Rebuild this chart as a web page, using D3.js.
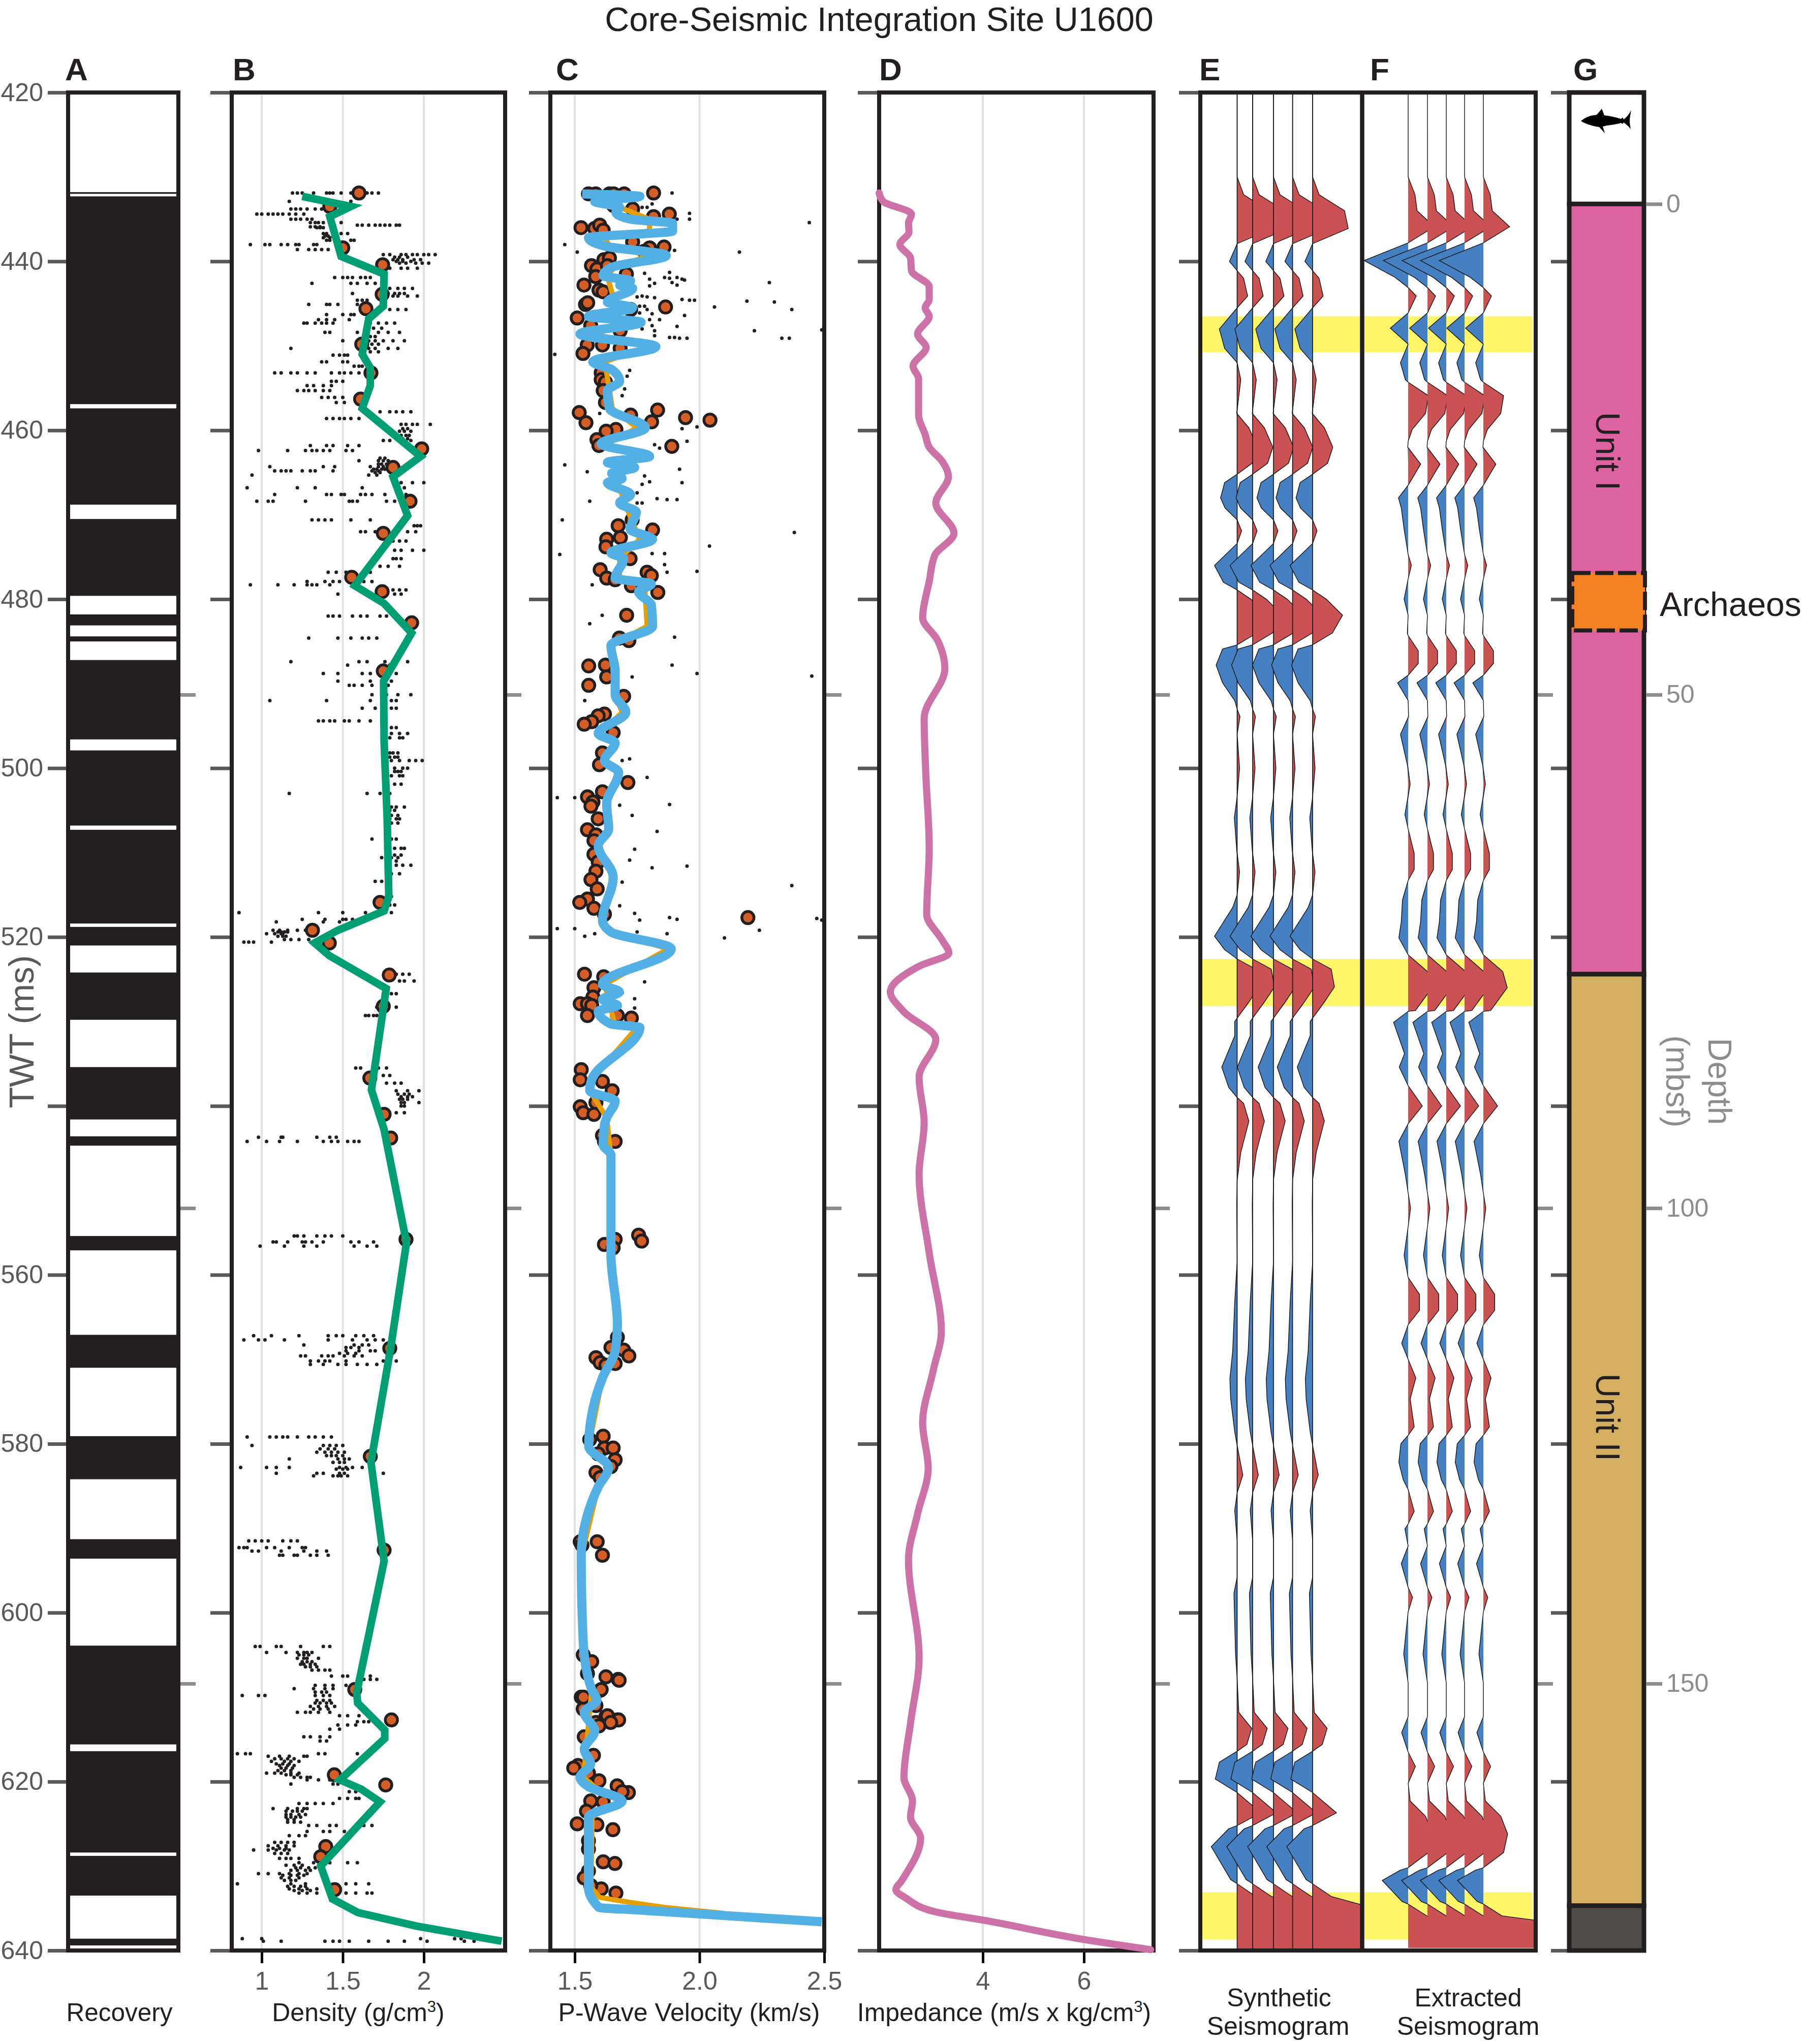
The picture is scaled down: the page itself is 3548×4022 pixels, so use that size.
<!DOCTYPE html>
<html><head><meta charset="utf-8">
<script src="https://cdn.jsdelivr.net/npm/d3@7"></script>
<style>html,body{margin:0;padding:0;background:#fff}svg{display:block}text{font-family:"Liberation Sans",Arial,sans-serif}</style>
</head><body><svg id="c" width="3548" height="4022" viewBox="0 0 3548 4022"></svg>
<script>
// ---------- DATA (TWT in ms) ----------
const twtTicks=[420,440,460,480,500,520,540,560,580,600,620,640];
const twtHiddenLabels=[540];
const depthTicks=[0,50,100,150];
const depthTwt=[433.2,491.3,552.1,608.4];
const densityTicks=[1,1.5,2];
const velocityTicks=[1.5,2,2.5];
const impedanceTicks=[4,6];
const recoveryGaps=[[420,431.8],[432,432.3],[456.9,457.4],[468.8,470.5],[479.6,481.8],[483.1,484.4],[485,487.2],[496.6,497.9],[506.8,507.3],[518.4,518.8],[521,524.2],[529.8,535.4],[541.6,543.6],[544.7,555.4],[557.1,567.1],[571,579.1],[584.2,591.3],[593.6,603.9],[615.6,616.4],[628.4,628.8],[633.5,638.6],[639.4,640]];
const densityLine=[[432.3,1.25],[433.5,1.55],[434.7,1.42],[439.4,1.49],[441.5,1.755],[445.3,1.75],[446.8,1.66],[451,1.62],[452.6,1.67],[454.7,1.67],[457.4,1.62],[463.1,1.98],[465.5,1.81],[470.1,1.9],[478.4,1.574],[480.5,1.755],[484,1.925],[489.7,1.752],[496.8,1.755],[506,1.774],[515.2,1.784],[516.9,1.755],[519.2,1.47],[520.7,1.326],[522.2,1.417],[526.1,1.768],[538.1,1.677],[542.8,1.755],[556.2,1.893],[568.6,1.796],[582.2,1.674],[593.9,1.755],[609.5,1.586],[610.7,1.592],[613.9,1.759],[614.9,1.759],[619.8,1.483],[620.9,1.614],[622.4,1.73],[630,1.364],[633.9,1.436],[635.5,1.592],[637.1,1.953],[638.9,2.48]];
const densitySamples=[[431.9,1.6],[433.5,1.42],[438.4,1.5],[440.4,1.746],[443.9,1.743],[445.6,1.643],[449.8,1.617],[453.2,1.674],[456.3,1.61],[462.2,1.987],[464.4,1.81],[468.4,1.915],[472.2,1.75],[477.4,1.555],[479.1,1.743],[482.8,1.925],[488.5,1.75],[515.9,1.73],[519.2,1.313],[520.7,1.417],[524.5,1.787],[528.2,1.75],[536.7,1.667],[541,1.755],[543.8,1.796],[555.8,1.89],[568.7,1.79],[581.5,1.67],[592.6,1.755],[609.1,1.574],[612.7,1.8],[619.2,1.448],[620.4,1.765],[627.7,1.395],[628.9,1.364],[632.8,1.45]];
// each row: ms, then density values logged at that travel time
const densityRows=[
[431.9,1.19,1.22,1.25,1.32,1.40,1.42,1.44,1.49,1.55,1.65,1.68,1.72],[432.9,1.17,1.38,1.44,1.55],[433.8,1.18,1.21,1.24,1.28,1.33,1.37],[434.4,.97,1,1.04,1.07,1.10,1.13,1.17,1.21,1.26],[435,1.18,1.21,1.24,1.28,1.31],[435.4,1.30,1.33,1.35,1.38,1.49],[435.7,1.59,1.62,1.66,1.70,1.73,1.76,1.79,1.83,1.85],[436.7,1.38,1.40,1.49,1.53],[437.5,1.40,1.42,1.46,1.55,1.57],[438,.93,1.02,1.05,1.12,1.16,1.21,1.23,1.32,1.34,1.5],[438.6,1.22,1.29,1.33,1.37,1.41],[439.2,1.75,1.79,1.86,1.89,1.93,1.96,2,2.03,2.07],[439.8,1.81,1.84,1.87,1.94,1.98],[440.2,1.85,1.89,1.95,1.99,2.03],[440.8,1.79,1.86,1.9,1.96],[441.9,1.45,1.5,1.53,1.56,1.61,1.64,1.67],[442.6,1.31,1.55,1.59,1.65,1.70],[443.2,1.79,1.84,1.88,1.93],[443.8,1.56,1.78,1.82,1.85,1.88],[444.1,1.81,1.84,1.90,1.96],[444.6,1.59,1.62,1.65],[445.1,1.29,1.4,1.42,1.47,1.59],[445.7,1.79,1.84,1.89],[446.3,1.40,1.5,1.55,1.57,1.68],[446.9,1.35,1.4,1.45,1.54],[447.3,1.26,1.28,1.33,1.37,1.4,1.44,1.67,1.72,1.77,1.82],[448.4,1.39,1.42,1.59,1.65,1.72,1.78,1.85],[449.4,1.5,1.62,1.66,1.7,1.75,1.81,1.88],[450.3,1.18,1.66,1.7,1.78,1.84],[451.1,1.44,1.48,1.51,1.53],[451.9,1.37,1.4,1.5,1.53],[452.4,1.57,1.6,1.62],[453.2,1.08,1.12,1.18,1.22,1.28,1.33,1.43,1.48,1.51,1.55,1.6],[454.2,1.43,1.46,1.5],[454.7,1.28,1.32,1.38,1.43],[455.3,1.22,1.26,1.29,1.33,1.38,1.42],[456.1,1.37,1.41,1.45,1.5],[456.7,1.46,1.51],[457.8,1.73,1.79,1.83,1.87,1.92],[458.6,1.4,1.44,1.48,1.51,1.55,1.6],[459.3,1.86,1.89,1.93,1.96,2.04],[460.1,1.85,1.88,1.92],[461.2,1.75,1.79,1.87,1.92],[461.8,1.3,1.4,1.44,1.53,1.6],[462.4,.98,1.16,1.27,1.31,1.34,1.38,1.42,1.52,1.56],[463.6,1.6,1.72,1.75,1.78],[464.3,1.05,1.38,1.45,1.67,1.72,1.75],[464.8,1.08,1.12,1.15,1.18,1.25,1.3,1.33,1.44,1.68,1.72],[465.3,.94,1.66,1.71],[466.2,1.86,1.93,2],[466.8,.91,1.22,1.33,1.62,1.88],[467.6,1.08,1.4,1.43,1.49,1.51,1.61,1.64,1.68,1.76,1.89],[468.4,.97,1.04,1.07,1.27,1.54,1.56,1.59,1.77,1.82,1.86],
[470.6,1.31,1.35,1.39,1.43,1.55,1.67],[471.3,1.94,1.96,1.98],[472,1.61,1.64,1.7,1.78,1.83,1.9,1.95],[473.1,1.81,1.85,1.89],[474.2,1.82,1.86,1.93,2],[475.2,1.81,1.83,1.86],[476.1,1.73,1.78,1.85],[476.8,1.41,1.46,1.52,1.63,1.67],[477.9,1.28,1.39,1.44,1.48,1.63,1.68],[478.3,.93,1.1,1.2,1.28,1.31,1.34,1.42],[478.9,1.81,1.85,1.89],[479.4,1.47,1.82,1.86],[482,1.41,1.44,1.48,1.56,1.61,1.65,1.73,1.77],[484.6,1.29,1.47,1.55,1.62,1.66,1.71],[487.4,1.18,1.6,1.65,1.76,1.9],[487.8,1.53,1.75,1.79],[488.8,1.38,1.47,1.62,1.67,1.83],[489.7,1.47,1.67,1.8],[490.2,1.54,1.57,1.62,1.68,1.78],[491.3,1.68,1.77,1.84,1.92],[492,1.05,1.4,1.67,1.8,1.83],[492.9,1.62,1.7,1.8,1.83],[494.4,1.35,1.38,1.42,1.45,1.51,1.54,1.6,1.67],[495.2,1.8,1.83],[495.9,1.8,1.85,1.9],[496.4,1.79,1.85,1.87],[498.2,1.79,1.81,1.84],[499.1,1.8,1.85,1.91,1.95,1.99],[500,1.82,1.87,1.9],[500.9,1.8,1.85,1.87],[501.9,1.82,1.86],[503,1.17,1.65,1.73,1.79],[504.6,1.8,1.83,1.88],[505.6,1.8,1.84],[506.5,1.8,1.84],[508.4,1.68,1.8,1.83],[509.5,1.82,1.86,1.88],[510.6,1.74,1.8,1.84],[511.5,1.83,1.87,1.92],[512.5,1.8,1.85],[513.4,1.7,1.74,1.78],[515.2,1.77,1.8],[516.2,1.79,1.82],[517.1,.86,1.35,1.5,1.64,1.75,1.8],[517.9,1.25,1.39,1.5,1.52,1.56],[518.2,1.09,1.38,1.48],[519.2,1.07,1.11,1.16,1.22,1.27,1.31],[519.6,1.03,1.08,1.12,1.13,1.43],[520.3,1.14,1.18,1.23,1.29],[520.6,.89,.92,.95,1.06],[524.4,1.83,1.87,1.91],[525.2,1.85,1.88,1.94],[526.7,1.75,1.8,1.83],[528.3,1.71,1.83],[529.3,1.64,1.66,1.69,1.71],[535.5,1.58,1.61,1.72,1.77],[536.4,1.7,1.75,1.79],[537.3,1.77,1.82,1.86],[538.2,1.83,1.9,1.97],[538.9,1.86,1.9,1.93],[539.6,1.86,1.88,1.97],[540.8,1.77,1.83,1.88],
[543.7,.98,1.12,1.13,1.34,1.42,1.46],[544.2,.91,1.03,1.11,1.22,1.38,1.43,1.47,1.53,1.57,1.6],[555.4,1.2,1.22,1.26,1.34,1.39,1.43,1.5],[556.1,1.07,1.09,1.16,1.25,1.27,1.31,1.38,1.55,1.6,1.69],[556.6,.99,1.14,1.26,1.34,1.57,1.65,1.71],[567.2,.95,1.06,1.23,1.41,1.46,1.5,1.58,1.63,1.69],[567.7,.89,.98,1.02,1.14,1.41,1.56,1.65,1.7,1.75],[568.3,1.26,1.57,1.62,1.66],[569,1.52,1.6,1.67,1.7],[569.6,1.24,1.27,1.37,1.41,1.44,1.51,1.57,1.62],[570.2,1.3,1.35,1.39,1.42,1.52,1.75,1.83],[570.6,1.3,1.38,1.47,1.52,1.59,1.65,1.71],[579.2,.91,1.05,1.09,1.13,1.16,1.22,1.29,1.33,1.38,1.43],[580.2,.94,1.38,1.42,1.46,1.5],[581,1.34,1.39,1.43,1.47,1.51],[581.8,1.17,1.47,1.51,1.54],[582.8,.87,1.03,1.09,1.17,1.48,1.52,1.56,1.62],[583.5,1.09,1.34,1.38,1.48,1.51,1.75],[583.8,1.32,1.44,1.47,1.49,1.53],[591.5,.92,.96,1,1.04,1.13,1.18,1.22],[592.3,.86,.89,.91,1.03,1.08,1.17,1.25,1.27],[592.7,.94,.98,1.12,1.26,1.34,1.4],[593.2,1.11,1.13,1.2,1.22,1.3,1.34,1.41],[604,.96,.99,1.09,1.12,1.24,1.38,1.42],[604.7,1.03,1.15,1.22,1.26,1.28,1.31],[605.4,1.22,1.26,1.28,1.35],[606.1,1.24,1.26,1.3,1.33],[606.8,1.31,1.35,1.39,1.42],[607.5,1.43,1.5,1.53,1.62,1.67],[607.9,1.63,1.67,1.71],
[608.6,1.33,1.39,1.44,1.52,1.56],[609,1.2,1.32,1.39,1.44],[609.8,.88,.98,1.02,1.33,1.38,1.42],[610.4,1.34,1.38,1.42],[611.1,1.3,1.35,1.4,1.45],[611.8,1.22,1.27,1.3,1.35,1.42],[612.2,1.48,1.53,1.6],[612.9,1.59,1.63,1.66],[613.3,1.47,1.53,1.58],[613.8,1.42,1.48],[614.7,1.26,1.3,1.36,1.42],[615.2,1.36,1.4],[616.7,.85,.9,.93,1.35,1.39,1.59],[617,1.04,1.11,1.17,1.26,1.28],[617.6,1.06,1.14,1.18,1.23],[618.1,1.11,1.16,1.2],[619,1.03,1.08,1.12,1.18,1.23],[619.5,1.2,1.24,1.28,1.3],[619.8,1.28,1.35,1.42],[620.3,1.18,1.44,1.47],[621.2,1.54,1.58],[622,1.48,1.53,1.58,1.6],[622.6,1.23,1.28,1.33,1.38,1.44],[623.2,1.07,1.16,1.22,1.26,1.28],[623.9,1.15,1.18,1.23,1.27],[624.8,1.16,1.2,1.24],[625.2,1.29,1.34,1.42,1.46,1.63,1.68],[625.9,1.28,1.38,1.42,1.51],[626.4,1.17,1.23,1.27],[627.6,1.04,1.1,1.15,1.2],[628.1,.95,1.04,1.09,1.14,1.17],[629.1,1.11,1.15,1.18,1.23],[629.6,1.23,1.32,1.42,1.53,1.59],[630.2,1.21,1.24,1.29,1.33],[630.9,.98,1.04,1.11,1.17,1.23,1.28],[631.4,1.12,1.17,1.23],[632.1,.85,1.18,1.27,1.52,1.58,1.66],[632.7,1.17,1.23,1.28,1.34],[633.2,1.23,1.28,1.34,1.52,1.58,1.65,1.68],[638.6,.88,1,1.98,2.19,2.23],[638.9,1.01,1.12,1.39,1.44,1.48,1.54,1.66,1.78,1.88,2.02,2.25,2.31],
[461,1.85,1.87,1.9],[460.6,1.86,1.89,1.91],[459.8,1.87,1.9],[464,1.72,1.74,1.77],[464.6,1.69,1.71,1.74,1.76],[465,1.7,1.73],[463.3,1.73,1.76],[449.8,1.65,1.68,1.72],[450.7,1.63,1.67,1.72],[447.9,1.66,1.69,1.74],[448.9,1.64,1.67,1.7],[439.5,1.82,1.85,1.9],[440,1.83,1.87,1.92],[435.9,1.3,1.33,1.36],[436,1.34,1.36,1.38],[437,1.39,1.41,1.44],[437.2,1.38,1.42],
[510.3,1.78,1.82,1.86],[511,1.79,1.83],[505,1.79,1.82],[506,1.79,1.83,1.85],[500.4,1.82,1.84,1.86],[498.7,1.79,1.82,1.84],[519.4,1.1,1.12,1.14,1.16],[519.9,1.1,1.13,1.15],[538.6,1.84,1.88,1.91],[539.2,1.85,1.87,1.9],[540,1.86,1.88],
[581.4,1.4,1.43,1.46,1.5],[582.2,1.44,1.48,1.51],[583,1.46,1.5,1.53],[580.6,1.36,1.41,1.45],[569.3,1.48,1.53,1.58],[568.6,1.52,1.55,1.6],
[605,1.23,1.26,1.29],[605.8,1.25,1.28,1.31],[606.4,1.27,1.3,1.34],[609.4,1.33,1.37,1.4],[610.7,1.33,1.36,1.4,1.43],[611.4,1.32,1.36,1.41],
[617.3,1.08,1.12,1.16,1.2],[617.9,1.09,1.13,1.17],[618.4,1.12,1.15,1.19],[618.7,1.1,1.14,1.18],[619.2,1.15,1.18,1.22],
[623.5,1.15,1.19,1.22,1.25],[624.2,1.15,1.18,1.21,1.24],[624.5,1.16,1.2],[627.2,1.08,1.12,1.16,1.2],[627.9,1.07,1.11,1.15],[628.5,1.08,1.12,1.16],
[629.9,1.15,1.2,1.25],[630.5,1.18,1.22,1.27,1.3],[631.1,1.13,1.18,1.22,1.26],[631.7,1.14,1.18,1.21],[632.4,1.16,1.2,1.24,1.27],[632.9,1.2,1.25,1.3]];
const velocityLine=[[432,1.53],[432.3,1.761],[432.9,1.58],[433.6,1.68],[434.2,1.665],[435,1.724],[435.5,1.892],[436.4,1.892],[437.2,1.555],[438.2,1.623],[439.3,1.867],[440.7,1.648],[441.7,1.614],[442.3,1.724],[442.8,1.68],[443.2,1.732],[444.8,1.631],[445.5,1.732],[446.5,1.555],[447.2,1.766],[448.6,1.521],[450.1,1.825],[451.9,1.572],[452.8,1.648],[454.2,1.68],[455.3,1.631],[457.4,1.639],[459.7,1.783],[461.6,1.606],[463.1,1.8],[463.8,1.631],[464.4,1.74],[465.1,1.648],[465.7,1.69],[466.2,1.631],[467.6,1.724],[468.6,1.68],[469.7,1.747],[471.7,1.722],[472.9,1.812],[474.5,1.645],[475.2,1.696],[477.5,1.662],[478.2,1.807],[479.1,1.756],[480.7,1.807],[483.2,1.812],[485.5,1.645],[488.5,1.662],[491.3,1.662],[493.4,1.705],[495.9,1.594],[497,1.662],[499.1,1.619],[500.5,1.676],[504.2,1.628],[507.2,1.636],[509.2,1.594],[512.9,1.654],[518,1.611],[519.4,1.645],[521.4,1.887],[525.6,1.611],[526.5,1.679],[527.4,1.611],[528.1,1.671],[528.8,1.594],[530.3,1.645],[530.7,1.761],[536.9,1.568],[538.2,1.56],[539.4,1.662],[541.4,1.628],[542.3,1.619],[544.6,1.614],[545.8,1.645],[557.5,1.645],[565.8,1.671],[569,1.662],[572.2,1.611],[580.3,1.556],[582.8,1.636],[585.1,1.594],[593.4,1.526],[603.5,1.534],[609.1,1.568],[610.4,1.589],[611.8,1.538],[614,1.58],[616.2,1.538],[617.9,1.564],[619.5,1.521],[620.6,1.555],[622.3,1.69],[624.2,1.555],[632.5,1.555],[634.9,1.597],[635.2,1.755],[635.9,2.12],[636.6,2.49]];
const velocityLineRaw=[[432,1.56],[433.6,1.68],[435,1.8],[436.4,1.8],[437.2,1.62],[438.2,1.64],[439.3,1.8],[440.7,1.66],[441.7,1.63],[444.8,1.66],[445.5,1.7],[446.5,1.6],[447.2,1.7],[448.6,1.58],[450.1,1.79],[451.9,1.62],[455.3,1.64],[457.4,1.65],[459.7,1.75],[461.6,1.63],[463.1,1.76],[465,1.66],[468.6,1.7],[472.9,1.76],[475.2,1.68],[477.5,1.68],[478.2,1.78],[483.2,1.79],[485.5,1.645],[491.3,1.662],[493.4,1.69],[495.9,1.6],[497,1.662],[499.1,1.625],[500.5,1.67],[504.2,1.628],[507.2,1.636],[509.2,1.6],[512.9,1.65],[518,1.611],[519.4,1.645],[521.4,1.875],[525.6,1.62],[530.3,1.66],[530.7,1.75],[536.9,1.568],[538.2,1.56],[541.4,1.628],[545.8,1.645],[557.5,1.645],[565.8,1.671],[569,1.662],[572.2,1.611],[580.3,1.556],[582.8,1.636],[585.1,1.594],[593.4,1.526],[603.5,1.534],[609.1,1.568],[619.5,1.535],[620.6,1.58],[622.3,1.68],[624.2,1.57],[632.5,1.565],[633.7,1.6],[634.3,1.72],[634.9,1.86],[635.6,2.1]];
const velocitySamples=[[432,1.555],[432,1.584],[432,1.639],[432,1.656],[432,1.698],[431.9,1.816],[433.8,1.732],[433.4,1.656],[434.7,1.816],[434.4,1.879],[436,1.525],[436.1,1.58],[435.7,1.6],[436.3,1.614],[437.7,1.732],[438.4,1.8],[438.3,1.858],[438.8,1.778],[439.8,1.617],[440.5,1.567],[439.6,1.639],[440.9,1.589],[440.5,1.631],[441.8,1.584],[441.5,1.707],[442.8,1.537],[443.4,1.597],[443.6,1.614],[445.1,1.543],[444.9,1.552],[445.4,1.864],[445.7,1.724],[446.7,1.51],[447.6,1.564],[448.2,1.682],[449.9,1.55],[449.9,1.611],[450.3,1.682],[450.9,1.533],[453.2,1.606],[454,1.606],[454.3,1.623],[455.3,1.614],[456.7,1.623],[457.9,1.518],[459.1,1.545],[458.2,1.724],[457.6,1.832],[459,1.808],[458.5,1.944],[458.8,2.042],[459.9,1.665],[460.1,1.626],[461.1,1.589],[461.8,1.597],[461.9,1.889],
[471.3,1.674],[470.6,1.73],[471.8,1.812],[472.9,1.628],[472.7,1.683],[473.8,1.625],[475.2,1.722],[476.5,1.602],[476.8,1.79],[477.2,1.807],[477.5,1.628],[477.7,1.662],[478.4,1.727],[479.2,1.833],[481.9,1.708],[484.6,1.679],[484.9,1.717],[487.9,1.556],[487.8,1.623],[489.2,1.628],[490.2,1.556],[491.5,1.696],[493.6,1.619],[493.8,1.594],[494.5,1.568],[494.8,1.538],[495.8,1.654],[498.2,1.611],[499.6,1.599],[501.7,1.713],[502.8,1.611],[503.4,1.551],[504,1.573],[504.5,1.565],[506,1.594],[507.3,1.551],[507.9,1.585],[508.6,1.577],[510.2,1.577],[511.1,1.594],[512.2,1.585],[513.2,1.565],[514.3,1.59],[515.5,1.551],[515.9,1.52],[516.6,1.577],[517.3,1.619],[517.7,2.194],[524.4,1.539],[524.7,1.616],[526,1.577],[527.1,1.573],[527.9,1.522],[527.9,1.551],[528.1,1.568],[529.3,1.551],[529.3,1.671],[529.6,1.727],[535.7,1.526],[536.9,1.522],[537.1,1.611],[538.2,1.65],[540.1,1.522],[539.6,1.585],[540.8,1.534],[541,1.577],
[543.5,1.611],[544.2,1.662],[544.2,1.619],[555.8,1.662],[555.3,1.756],[556,1.768],[556.4,1.619],[556.8,1.654],[567.4,1.671],[568.6,1.645],[568.9,1.696],[569.6,1.717],[569.8,1.585],[570.4,1.602],[570.5,1.662],[570.7,1.625],[579.1,1.614],[579.5,1.56],[580.5,1.619],[580.5,1.654],[581.2,1.594],[581.9,1.662],[583.4,1.585],[584,1.602],[582.7,1.645],[591.6,1.522],[592,1.529],[591.6,1.59],[593.2,1.611],[605,1.534],[605.8,1.568],[607.2,1.551],[607.6,1.625],[607.9,1.674],[609.2,1.602],[610,1.526],[611.4,1.534],[610.9,1.577],[612.3,1.625],[612.7,1.671],[612.9,1.636],[613,1.585],
[608,1.678],[609.1,1.606],[610,1.535],[611,1.585],[612.2,1.631],[612.7,1.676],[613,1.644],[613.4,1.597],[614.7,1.538],[616.9,1.575],[618.1,1.513],[618.4,1.496],[619,1.555],[619.9,1.597],[620.5,1.67],[621.3,1.715],[621.2,1.69],[622.3,1.564],[622.4,1.614],[623.5,1.547],[625,1.51],[625.1,1.589],[625.7,1.653],[627,1.555],[628,1.555],[629.5,1.614],[629.7,1.661],[630.6,1.555],[631.4,1.538],[632.7,1.606],[633.2,1.665],[632.3,1.564]];
const velocityDots=[[431.9,1.89],[433.2,1.81],[433.6,1.77],[433.6,1.79],[434.3,1.96],[435,1.96],[435,1.91],[435.4,2.44],[438,1.46],[438.9,1.51],[438.9,2.16],[438.7,1.9],[441.4,1.78],[441.3,1.88],[441.9,1.86],[442,1.88],[441.9,1.91],[442.1,1.93],[442.2,1.94],[442.5,1.89],[442.8,1.91],[442.5,2.28],[442.1,1.8],[442.6,1.82],[442.9,1.8],[444.2,1.75],[444.1,1.77],[444.2,1.79],[444.3,1.82],[444.5,1.93],[444.6,1.96],[444.6,1.98],[444.7,2.19],[444.8,2.3],[445.4,2.06],[445.7,2.37],[445.3,1.76],[445.3,1.78],[445.7,1.79],[446.1,1.76],[446.2,1.81],[446.4,1.94],[446.9,1.8],[446.9,1.84],[447.6,1.81],[447.7,1.91],[448,1.77],[448.2,1.82],[448.2,2.22],[448.1,2.49],[448.8,1.82],[449,1.88],[449,1.9],[449.1,1.92],[449.1,1.95],[449.1,2.33],[449.1,2.36],[451,1.42],[452.9,1.72],[453.6,1.71],[455.1,1.7],[455.9,1.69],[458,1.6],[459.6,1.99],[459.8,1.93],[461.3,1.95],[461.7,1.82],[462.1,1.84],[464.1,1.46],[464.9,1.55],[464.6,1.92],[465.4,1.78],[466.1,1.8],[466.4,1.77],[466.2,1.93],[467.4,1.75],[468.1,1.83],[468.2,1.87],[468.2,1.91],[468.4,1.56],[468.6,1.75],[468.6,1.77],
[470.6,1.45],[472.1,2.38],[473.7,2.04],[474.7,1.44],[474.6,1.86],[474.6,1.81],[475.9,1.86],[476.8,1.87],[476.7,1.99],[478.3,1.57],[481.9,1.61],[482.9,1.56],[484.5,1.9],[487.8,1.89],[488.8,1.99],[489.1,2.45],[489.2,1.73],[492,1.54],[498.9,1.72],[499.1,1.69],[501.1,1.79],[503.5,1.43],[503.5,1.5],[504.3,1.88],[504.4,1.68],[505.6,1.73],[507.5,1.83],[509.6,1.74],[510.9,1.72],[511.8,1.81],[511.6,1.95],[513.5,1.69],[513.9,2.37],[516.3,1.68],[517.2,1.74],[518,1.76],[517.7,1.88],[517.9,1.91],[517.8,2.47],[518,2.49],[519,1.43],[519,1.5],[519.2,2.24],[519.9,1.54],[519.6,1.58],[519.4,1.75],[519.6,1.87],[520.1,2.1],[525.3,1.78],[526.6,1.69],[527.3,1.74],[528.4,1.74]];
const impedanceLine=[[431.9,1.95],[432.9,2.03],[434.4,2.59],[435.5,2.53],[436.5,2.54],[438,2.36],[439.6,2.57],[441.1,2.59],[443,2.94],[444.5,2.94],[445.5,2.86],[446.5,2.94],[448.6,2.71],[450.2,2.88],[452.4,2.62],[453.9,2.73],[458.2,2.73],[460.5,2.86],[462,2.94],[463.7,3.2],[465.5,3.32],[468.6,3.07],[472.2,3.43],[474.8,3.05],[477.9,2.94],[482.2,2.81],[484.8,3.1],[488.2,3.25],[494.1,2.84],[500.3,2.87],[509.5,2.94],[517.3,2.89],[520.4,3.2],[521.9,3.33],[523.4,2.76],[526.5,2.17],[528.8,2.43],[532.1,3.07],[536.6,2.74],[542,2.84],[548.1,2.74],[557.4,2.94],[566.7,3.18],[571.3,3.02],[577.5,2.81],[582.9,2.92],[588.3,2.71],[593.7,2.53],[605.3,2.74],[613.1,2.57],[619.5,2.44],[622.3,2.61],[624.2,2.57],[626.7,2.77],[631.7,2.4],[632.8,2.28],[633.8,2.48],[635.5,3.12],[636.4,4],[638.7,6],[639.9,7.32]];
const yellowBands=[[446.5,450.75],[522.6,528.2],[633.1,638.7]];
const syntheticTraces=[2434.5,2465,2506,2543.6,2583];
const extractedTraces=[2771,2809,2846,2882,2919];
const syntheticAmp=[[420,0],[430,0],[432.1,.16],[434,.79],[436.1,.88],[437.9,0],[440,-.19],[441.1,0],[442,.16],[444.1,.26],[445.5,0],[448,-.44],[450.3,-.31],[452,0],[454,.09],[458,-.01],[459.7,.29],[462,.5],[463.9,.37],[465.2,0],[466.2,-.31],[468,-.41],[469.2,-.3],[470.6,0],[471.9,.11],[473.4,0],[476,-.56],[478,-.34],[478.9,0],[480,.34],[481.9,.74],[484,.49],[485.4,0],[485.9,-.36],[487.8,-.52],[489.9,-.36],[492,-.06],[493,0],[493.9,.07],[496,0],[500,.06],[503.4,0],[505.9,-.07],[509.7,-.01],[512.3,.06],[515,0],[516.5,-.11],[519.9,-.56],[521.5,-.31],[522.6,0],[523.8,.46],[525.9,.54],[527.7,.29],[529.6,0],[530,-.06],[531.7,-.06],[535.4,-.38],[537.8,-.21],[539,0],[539.7,.16],[541.8,.29],[545.5,.09],[548.8,0],[551.7,-.01],[558.4,0],[563.2,-.06],[569,-.11],[572.3,-.18],[574.7,-.16],[578.6,-.06],[580.2,0],[583.7,.14],[585.8,0],[587.9,-.06],[591.5,0],[595.8,0],[597.7,-.08],[604.9,-.04],[607.8,0],[611.8,.04],[613.7,.36],[615.6,.24],[616.4,0],[617.7,-.44],[619.7,-.54],[621.3,0],[623.7,.59],[625.2,0],[625.6,-.21],[627.7,-.64],[631.6,-.16],[632.1,0],[633.6,.46],[634.6,1.22],[639.9,1.22]];
const extractedAmp=[[420,0],[430,0],[432.1,.17],[434,.22],[435.9,.65],[437.8,0],[439.9,-1.09],[441.9,-.32],[443.1,0],[444.1,.2],[446.1,0],[447.9,-.44],[449.8,0],[452,-.19],[454,-.07],[454.3,0],[455.9,.5],[458,.43],[459.9,.1],[461.3,0],[462,-.01],[464,.31],[466.5,0],[468,-.24],[469.2,-.17],[471.7,-.1],[474.7,0],[476,.08],[477.6,0],[480,-.1],[481.9,0],[484,-.02],[484.3,0],[486.1,.25],[487.6,.25],[489,0],[489.9,-.26],[492,0],[493.9,.01],[496,-.19],[499.6,-.02],[501.9,.05],[503.8,-.02],[505.5,-.08],[507.2,0],[510.1,.15],[512,.15],[513.3,0],[515.6,-.14],[518.2,-.17],[520.1,-.23],[522.1,0],[524.1,.48],[526,.59],[528.7,.18],[528.8,0],[530.1,-.36],[533.8,-.09],[535.4,-.22],[537.6,0],[540,.35],[542.1,0],[544.2,-.23],[548.1,-.07],[550.3,0],[552.1,.06],[554.3,0],[557.7,-.1],[560.3,0],[562.3,.28],[564.2,.28],[565.9,0],[568.1,-.16],[570,0],[572.2,.19],[574.7,.05],[578,.15],[579,0],[580,-.18],[582.2,-.23],[584.3,-.12],[585.4,0],[588,.15],[589.5,0],[590.1,-.08],[592.1,0],[594.2,-.17],[597,0],[598.2,.11],[599.9,0],[604.9,-.11],[608.3,0],[612.3,0],[614.2,-.16],[616.5,0],[618.2,.18],[620.2,0],[622.3,.05],[624.1,.43],[626.2,.6],[628.4,.5],[630.2,0],[630.5,-.2],[631.7,-.64],[634.2,-.15],[634.5,0],[635.9,.46],[636.4,1.25],[639.7,1.27]];
const unitNames=["Unit I","Unit II"];
const unitTwt=[433.2,524.4,634.7];
const archaeosTwt=[476.9,483.7];

// ---------- STYLE / LAYOUT ----------
const ink="#231f20",tickGrey="#58595b",depthGrey="#8a8c8e",grid="#e2e2e3";
const topY=182,botY=3838;
const y=d3.scaleLinear([420,640],[topY,botY]);
const xB=d3.scaleLinear([1,2],[515,834]);
const xC=d3.scaleLinear([1.5,2.5],[1131,1622]);
const xD=d3.scaleLinear([4,6],[1934,2133]);
const depth=d3.scaleLinear(depthTicks,depthTwt.map(y));
const amp=d3.scaleLinear([-1,1],[-79.6,79.6]);
const F={A:[134,351],B:[456,994],C:[1083,1622],D:[1730,2270],E:[2362,2680.5],F:[2680.5,3022],G:[3088,3235]};
const svg=d3.select("#c");
svg.append("rect").attr("width",3548).attr("height",4022).attr("fill","#fff");
const defs=svg.append("defs");
for(const k of ["B","C","E","F"]){
  defs.append("clipPath").attr("id","clip"+k).append("rect").attr("x",F[k][0]).attr("y",topY-4).attr("width",F[k][1]-F[k][0]).attr("height",botY-topY+6);
}
function frameBox(k,sw=8){
  svg.append("rect").attr("x",F[k][0]).attr("y",topY).attr("width",F[k][1]-F[k][0]).attr("height",botY-topY).attr("fill","none").attr("stroke",ink).attr("stroke-width",sw);
}
function gridlines(xs,vals){
  svg.append("g").selectAll("line").data(vals).join("line").attr("x1",xs).attr("x2",xs).attr("y1",topY).attr("y2",botY).attr("stroke",grid).attr("stroke-width",4);
}
function styleAxis(g,color,sw,fs){
  g.select(".domain").remove();
  g.selectAll("line").attr("stroke",color).attr("stroke-width",sw);
  g.selectAll("text").attr("fill",color).attr("font-size",fs).attr("font-family",'"Liberation Sans",Arial,sans-serif');
}
function leftTicks(k,len,labelled){
  const fmt=v=>labelled&&!twtHiddenLabels.includes(v)?String(v):"";
  const a=d3.axisLeft(y).tickValues(twtTicks).tickSize(len).tickPadding(9).tickFormat(fmt);
  const g=svg.append("g").attr("transform",`translate(${F[k][0]-4},0)`).call(a);
  styleAxis(g,tickGrey,7,50);
}
function depthTicksOn(k,len,vals,labelled){
  const a=d3.axisRight(depth).tickValues(vals).tickSize(len).tickPadding(8).tickFormat(labelled?d3.format("d"):"");
  const g=svg.append("g").attr("transform",`translate(${F[k][1]+4},0)`).call(a);
  styleAxis(g,depthGrey,7,50);
}
function bottomAxis(scale,vals,fmt){
  const a=d3.axisBottom(scale).tickValues(vals).tickSize(22).tickPadding(16).tickFormat(fmt);
  const g=svg.append("g").attr("transform",`translate(0,${botY+3})`).call(a);
  styleAxis(g,tickGrey,5,50);
  g.selectAll("line").attr("stroke","#000");
}
const lineGen=(x)=>d3.line().x(d=>x(d[1])).y(d=>y(d[0]));
const smoothGen=(x)=>d3.line().curve(d3.curveMonotoneY).x(d=>x(d[1])).y(d=>y(d[0]));
function drawDots(x,data){
  svg.append("g").selectAll("circle").data(data).join("circle").attr("cx",d=>x(d[1])).attr("cy",d=>y(d[0])).attr("r",3.5).attr("fill",ink);
}
function drawSamples(x,data){
  svg.append("g").selectAll("circle").data(data).join("circle").attr("cx",d=>x(d[1])).attr("cy",d=>y(d[0])).attr("r",12).attr("fill","#d55e27").attr("stroke",ink).attr("stroke-width",5.5);
}
function label(s,x,yy,fs,o={}){
  const t=svg.append("text").attr("x",x).attr("y",yy).attr("font-size",fs).attr("fill",o.fill||ink).attr("text-anchor",o.anchor||"middle").text(s);
  if(o.bold)t.attr("font-weight","bold");
  if(o.rot!=null)t.attr("transform",`rotate(${o.rot} ${x} ${yy})`);
  return t;
}

// ---------- TITLE / LETTERS ----------
label("Core-Seismic Integration Site U1600",1730,61,66.5);
[["A",128],["B",458],["C",1094],["D",1730],["E",2360],["F",2696],["G",3096]].forEach(d=>label(d[0],d[1],158,62,{bold:true,anchor:"start"}));

// ---------- A : recovery ----------
leftTicks("A",36,true);
svg.append("rect").attr("x",F.A[0]).attr("y",topY).attr("width",F.A[1]-F.A[0]).attr("height",botY-topY).attr("fill",ink);
svg.append("g").selectAll("rect").data(recoveryGaps).join("rect").attr("x",138).attr("width",209).attr("y",d=>y(d[0])).attr("height",d=>y(d[1])-y(d[0])).attr("fill","#fff");
frameBox("A");
depthTicksOn("A",30,depthTicks.slice(1),false);
label("TWT (ms)",66,2030,68,{rot:-90,fill:tickGrey});
label("Recovery",235,3977,49.5);

// ---------- B : density ----------
leftTicks("B",38,false);
gridlines(xB,densityTicks);
drawDots(xB,densityRows.flatMap(r=>r.slice(1).map(v=>[r[0],v])));
drawSamples(xB,densitySamples);
svg.append("path").attr("d",lineGen(xB)(densityLine)).attr("fill","none").attr("stroke","#009e73").attr("stroke-width",15).attr("stroke-linejoin","miter").attr("clip-path","url(#clipB)");
frameBox("B");
bottomAxis(xB,densityTicks,d3.format("~g"));
depthTicksOn("B",28,depthTicks.slice(1),false);
const tb=label("Density (g/cm",705,3977,50);
tb.append("tspan").attr("dy",-18).attr("font-size",31).text("3");
tb.append("tspan").attr("dy",18).text(")");

// ---------- C : velocity ----------
leftTicks("C",38,false);
gridlines(xC,velocityTicks.slice(0,2));
drawDots(xC,velocityDots);
drawSamples(xC,velocitySamples);
svg.append("path").attr("d",lineGen(xC)(velocityLineRaw)).attr("fill","none").attr("stroke","#e69f00").attr("stroke-width",10).attr("clip-path","url(#clipC)");
svg.append("path").attr("d",smoothGen(xC)(velocityLine)).attr("fill","none").attr("stroke","#52b0e4").attr("stroke-width",18).attr("stroke-linejoin","round").attr("clip-path","url(#clipC)");
frameBox("C");
bottomAxis(xC,velocityTicks,d3.format(".1f"));
depthTicksOn("C",30,depthTicks.slice(1),false);
label("P-Wave Velocity (km/s)",1356,3977,50);

// ---------- D : impedance ----------
leftTicks("D",38,false);
gridlines(xD,impedanceTicks);
frameBox("D");
svg.append("path").attr("d",smoothGen(xD)(impedanceLine)).attr("fill","none").attr("stroke","#cc72a6").attr("stroke-width",14).attr("stroke-linejoin","round").attr("stroke-linecap","round");
bottomAxis(xD,impedanceTicks,d3.format("d"));
depthTicksOn("D",28,depthTicks.slice(1),false);
const td=label("Impedance (m/s x kg/cm",1976,3977,50);
td.append("tspan").attr("dy",-18).attr("font-size",31).text("3");
td.append("tspan").attr("dy",18).text(")");

// ---------- E/F : seismograms ----------
leftTicks("E",38,false);
svg.append("g").selectAll("rect").data(yellowBands).join("rect").attr("x",2366).attr("width",310).attr("y",d=>y(d[0])).attr("height",d=>y(d[1])-y(d[0])).attr("fill","#fff568");
svg.append("g").selectAll("rect").data(yellowBands).join("rect").attr("x",2685).attr("width",331).attr("y",d=>y(d[0])).attr("height",d=>y(d[1])-y(d[0])).attr("fill","#fff568");
function wiggle(traces,profile,clip,baseline){
  const g=svg.append("g").attr("clip-path",`url(#clip${clip})`);
  traces.forEach(b=>{
    const area=d3.area().y(d=>y(d[0])).x0(b);
    g.append("path").attr("d",area.x1(d=>b+amp(Math.min(0,d[1])))(profile)).attr("fill","#4480c2");
    g.append("path").attr("d",area.x1(d=>b+amp(Math.max(0,d[1])))(profile)).attr("fill","#cb5252");
    g.append("path").attr("d",d3.line().x(d=>b+amp(d[1])).y(d=>y(d[0]))(profile)).attr("fill","none").attr("stroke","#111").attr("stroke-width",1.4);
    if(baseline) g.append("line").attr("x1",b).attr("x2",b).attr("y1",topY).attr("y2",botY).attr("stroke","#111").attr("stroke-width",1.6);
  });
}
wiggle(syntheticTraces,syntheticAmp,"E",true);
wiggle(extractedTraces,extractedAmp,"F",false);
frameBox("E");frameBox("F");
depthTicksOn("F",30,depthTicks.slice(1),false);
label("Synthetic",2517,3948,50);label("Seismogram",2515,4004,50);
label("Extracted",2889,3948,50);label("Seismogram",2889,4004,50);

// ---------- G : lithology ----------
leftTicks("G",32,false);
const gx=F.G[0],gw=F.G[1]-F.G[0];
const gBlock=(a,b,c)=>svg.append("rect").attr("x",gx).attr("width",gw).attr("y",y(a)).attr("height",y(b)-y(a)).attr("fill",c).attr("stroke",ink).attr("stroke-width",9);
gBlock(420,unitTwt[0],"#fff");
gBlock(unitTwt[0],unitTwt[1],"#dc62a0");
gBlock(unitTwt[1],unitTwt[2],"#d4af62");
gBlock(unitTwt[2],640,"#4f4b49");
svg.append("rect").attr("x",3094).attr("width",143).attr("y",y(archaeosTwt[0])).attr("height",y(archaeosTwt[1])-y(archaeosTwt[0])).attr("fill","#f58220").attr("stroke",ink).attr("stroke-width",8).attr("stroke-dasharray","36 9");
depthTicksOn("G",32,depthTicks,true);
label(unitNames[0],3141,888,66,{rot:90});
label(unitNames[1],3141,2789,66,{rot:90});
label("Archaeos",3266,1212,66,{anchor:"start"});
label("Depth",3362,2128,64,{rot:90,fill:depthGrey});
label("(mbsf)",3279,2128,64,{rot:90,fill:depthGrey});
// shark silhouette
svg.append("path").attr("transform","translate(3160,238)").attr("fill","#000")
  .attr("d","M-49,0 C-38,-9 -28,-11 -18,-12 L-8,-24 L-3,-11 C8,-10 20,-7 30,-4 L33,-7 L35,-3 C42,-8 46,-14 50,-21 C48,-12 47,-5 47,0 C47,6 48,10 49,16 C44,10 40,6 35,3 L33,6 L30,4 C22,6 12,8 2,9 L-6,11 L-2,24 L-13,12 C-26,10 -40,6 -49,0 Z");
</script></body></html>
